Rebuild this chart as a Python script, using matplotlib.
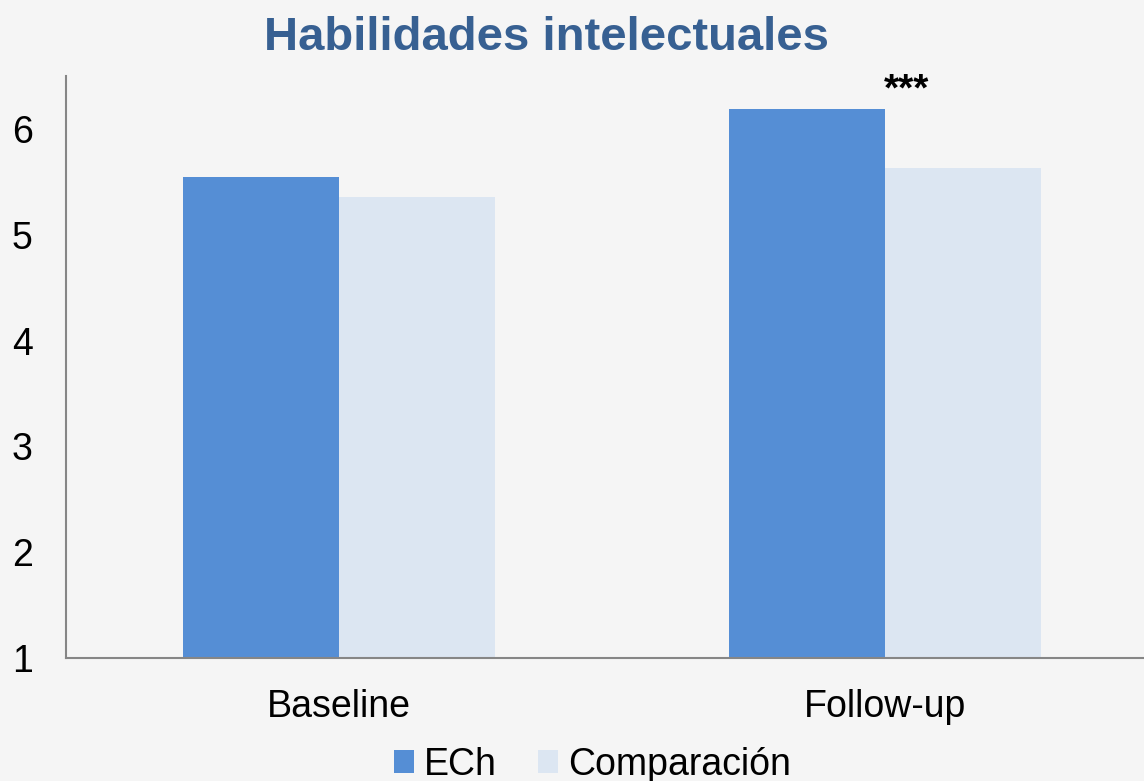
import matplotlib.pyplot as plt
import numpy as np
from matplotlib.patches import Patch

# data
categories = ["Baseline", "Follow-up"]
series_names = ["ECh", "Comparación"]
ech = [5.55, 6.19]
comparacion = [5.36, 5.63]
signif = ["", "***"]

colors = ["#558ED5", "#DCE6F2"]
bg = "#F5F5F5"

plt.rcParams["font.family"] = ["Liberation Sans", "DejaVu Sans"]

fig = plt.figure(figsize=(11.44, 7.81), dpi=100, facecolor=bg)
# axes right edge runs a bit past the figure, as in the reference
ax = fig.add_axes([66 / 1144, 123 / 781, 1092 / 1144, 582 / 781], facecolor=bg)

x = np.arange(len(categories))
w = 0.2857
ax.bar(x - w / 2, ech, w, bottom=0, color=colors[0], label=series_names[0])
ax.bar(x + w / 2, comparacion, w, bottom=0, color=colors[1], label=series_names[1])

for xi, top, s in zip(x, ech, signif):
    if s:
        ax.text(xi + 0.04, top + 0.17, s, ha="center", va="center",
                fontsize=28, fontweight="bold", color="black")

ax.set_xlim(-0.5, 1.5)
ax.set_ylim(1, 6.5)
ax.set_yticks([1, 2, 3, 4, 5, 6])
ax.set_xticks(x)
ax.set_xticklabels(categories)
ax.tick_params(axis="both", length=0, labelsize=27)
ax.tick_params(axis="y", pad=24)
ax.tick_params(axis="x", pad=22)
for s in ["top", "right"]:
    ax.spines[s].set_visible(False)
for s in ["left", "bottom"]:
    ax.spines[s].set_color("#868686")
    ax.spines[s].set_linewidth(1.5)

fig.text(546.5 / 1144, 1 - 38 / 781, "Habilidades intelectuales",
         ha="center", va="center", fontsize=34, fontweight="bold", color="#376092")

handles = [Patch(facecolor=c, edgecolor="none") for c in colors]
fig.legend(handles, series_names, loc="center", bbox_to_anchor=(592 / 1144, 1 - 765 / 781),
           ncol=2, frameon=False, fontsize=27, handlelength=0.55, handleheight=0.55,
           handletextpad=0.25, columnspacing=1.1, borderpad=0)

fig.savefig("out.png", dpi=100, facecolor=bg)
